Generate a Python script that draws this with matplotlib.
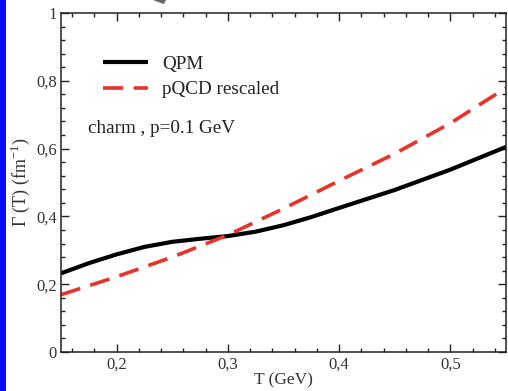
import matplotlib
matplotlib.use("Agg")
import matplotlib.pyplot as plt
from matplotlib.patches import Rectangle, Polygon
from matplotlib.ticker import FixedLocator, MultipleLocator, FuncFormatter

plt.rcParams['font.family'] = ['Liberation Serif', 'DejaVu Serif']
plt.rcParams['mathtext.fontset'] = 'custom'
plt.rcParams['mathtext.rm'] = 'Liberation Serif'

T_qpm = [0.15, 0.175, 0.2, 0.225, 0.25, 0.275, 0.3, 0.325, 0.35, 0.375, 0.4, 0.45, 0.5, 0.55]
G_qpm = [0.232, 0.262, 0.288, 0.31, 0.325, 0.334, 0.342, 0.355, 0.374, 0.398, 0.425, 0.478, 0.538, 0.605]

T_pqcd = [0.15, 0.2, 0.25, 0.3, 0.35, 0.4, 0.45, 0.5, 0.55]
G_pqcd = [0.169, 0.222, 0.28, 0.345, 0.423, 0.505, 0.585, 0.675, 0.779]

x_ticks = [0.2, 0.3, 0.4, 0.5]
y_ticks = [0, 0.2, 0.4, 0.6, 0.8, 1.0]

W, H = 508, 391
fig = plt.figure(figsize=(W / 100, H / 100), dpi=100)
fig.patch.set_facecolor('white')
ax = fig.add_axes([61 / W, 1 - 352 / H, (506 - 61) / W, (352 - 13) / H])

# blue strip at left and small gray mark at top
fig.patches.append(Rectangle((0, 0), 6 / W, 1, transform=fig.transFigure,
                             facecolor='#0a0aff', edgecolor='none', zorder=0))
fig.patches.append(Polygon([(153 / W, 1.0), (166 / W, 1.0), (164 / W, 1 - 4 / H), (158 / W, 1 - 2 / H)],
                           closed=True, transform=fig.transFigure,
                           facecolor='#666666', edgecolor='none'))

ax.plot(T_qpm, G_qpm, color='black', lw=3.0, solid_capstyle='butt', label='QPM')
ax.plot(T_pqcd, G_pqcd, color='#e8332a', lw=2.6, dashes=(5.6, 2.9), label='pQCD rescaled')

ax.set_xlim(0.15, 0.55)
ax.set_ylim(0, 1)

def fmt(v, pos):
    s = ('%.1f' % v)
    if s.endswith('.0'):
        s = s[:-2]
    return s.replace('.', ',')

ax.xaxis.set_major_locator(FixedLocator(x_ticks))
ax.yaxis.set_major_locator(FixedLocator(y_ticks))
ax.xaxis.set_minor_locator(MultipleLocator(0.02))
ax.yaxis.set_minor_locator(MultipleLocator(0.04))
ax.xaxis.set_major_formatter(FuncFormatter(fmt))
ax.yaxis.set_major_formatter(FuncFormatter(fmt))

ax.tick_params(which='both', direction='in', top=True, right=True, width=1.0, colors='#222222',
               labelsize=12, labelcolor='#333333')
ax.tick_params(which='major', length=5.5, pad=3)
ax.tick_params(which='minor', length=3)
for sp in ax.spines.values():
    sp.set_linewidth(1.1)
    sp.set_color('#222222')

ax.set_xlabel('T (GeV)', fontsize=12.5, color='#333333', labelpad=0)
ax.set_ylabel(r'Γ (T) (fm$^{\mathregular{-1}}$)', fontsize=13, color='#333333', labelpad=3)

leg = ax.legend(loc='upper left', bbox_to_anchor=(0.094, 0.875), frameon=False, fontsize=13.8,
                handlelength=2.35, handletextpad=0.73, labelspacing=0.42, borderaxespad=0, borderpad=0)
for t in leg.get_texts():
    t.set_color('#222222')

ax.text(0.06, 0.66, 'charm , p=0.1 GeV', transform=ax.transAxes, fontsize=13.8, color='#222222',
        ha='left', va='center')

fig.savefig('out.png', dpi=100)
